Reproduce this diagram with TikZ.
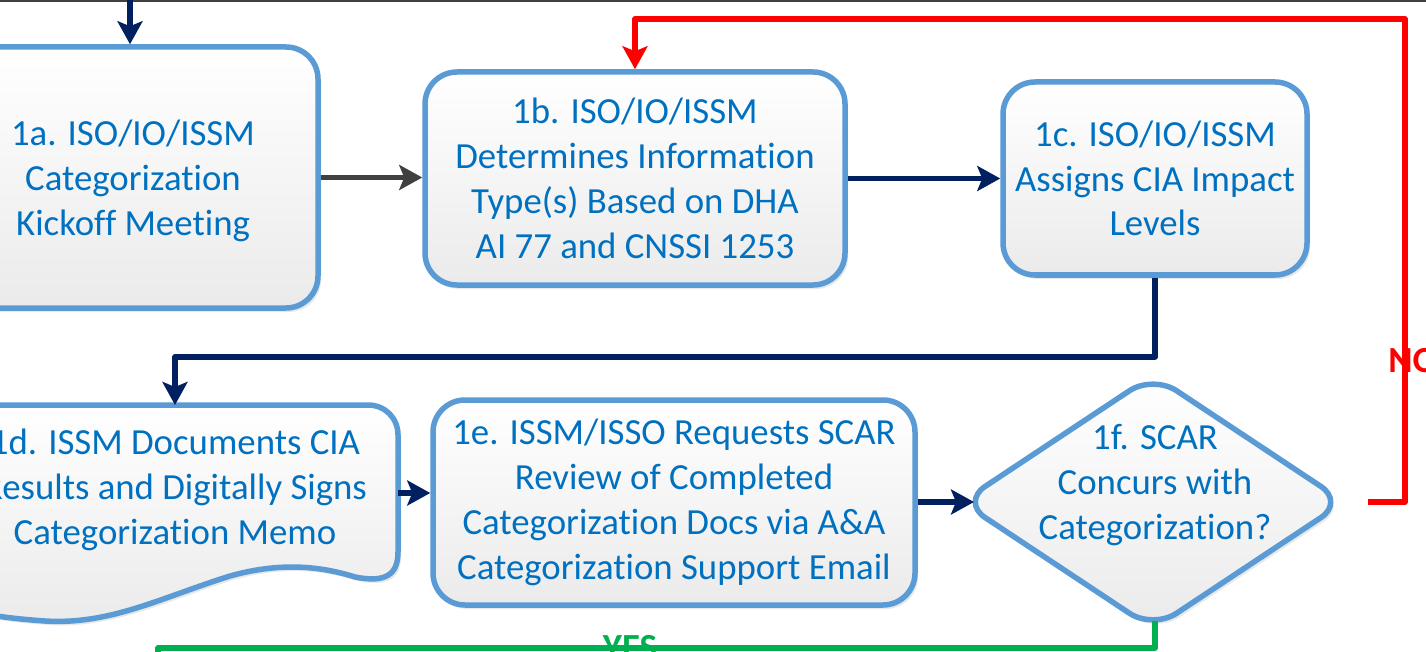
\documentclass[tikz,border=0pt]{standalone}
\usepackage{fontspec}
\setmainfont{Carlito}[Ligatures=NoCommon]
\usetikzlibrary{arrows.meta,shapes.geometric,shadows}
\definecolor{bordc}{HTML}{5B9BD5}
\definecolor{txtc}{HTML}{0070C0}
\definecolor{navyc}{HTML}{002060}
\definecolor{grayc}{HTML}{404040}
\definecolor{redc}{HTML}{FF0000}
\definecolor{greenc}{HTML}{00B050}
\newcommand\boxfont{\fontsize{36.8}{44.8}\selectfont}
\tikzset{
  shapelook/.style={draw=bordc, line width=5.5pt, top color=white, bottom color=black!8,
    drop shadow={shadow xshift=3pt, shadow yshift=-4pt, opacity=0.18}},
  procbox/.style={shapelook, rounded corners=32pt, text=txtc, align=center, inner sep=0pt, font=\boxfont},
  decbox/.style={shapelook, diamond, aspect=1.5, rounded corners=28pt, inner sep=0pt},
  boxtext/.style={text=txtc, align=center, inner sep=0pt, font=\boxfont},
  tipstyle/.style={-{Stealth[length=23pt,width=25pt,inset=5pt]}},
  conn/.style={line width=5.5pt, line join=round, tipstyle},
  navyarrow/.style={conn, draw=navyc},
  grayarrow/.style={conn, draw=grayc},
  redarrow/.style={conn, draw=redc},
  greenline/.style={line width=5.5pt, line join=round, draw=greenc},
  lbl/.style={font=\fontsize{36.8}{44.8}\selectfont\bfseries, inner sep=0pt}
}
\begin{document}
\begin{tikzpicture}[x=1pt,y=-1pt]
\useasboundingbox (0,0) rectangle (1426,652);
\clip (0,0) rectangle (1426,652);
\fill[white] (0,0) rectangle (1426,652);
% top frame line
\coordinate (frameL) at (0,1);
\coordinate (frameR) at (1426,1);
\draw[grayc, line width=3pt] (frameL) -- (frameR);

% nodes
\node[procbox, minimum width=370pt, minimum height=261pt, text depth=-6pt] (a) at (133,177.5)
  {1a. ISO/IO/ISSM\\Categorization\\Kickoff Meeting};
\node[procbox, minimum width=420pt, minimum height=213pt] (b) at (635,178.5)
  {1b. ISO/IO/ISSM\\Determines Information\\Type(s) Based on DHA\\AI 77 and CNSSI 1253};
\node[procbox, minimum width=304pt, minimum height=193pt] (c) at (1155,178.5)
  {1c. ISO/IO/ISSM\\Assigns CIA Impact\\Levels};
% document shape 1d
\path[shapelook]
  (-60,405) -- (368,405) .. controls (385,405) and (398,418) .. (398,435)
  -- (398,552) .. controls (398,575) and (385,583) .. (355,577)
  .. controls (320,566) and (280,562) .. (230,576)
  .. controls (160,598) and (110,625) .. (45,621)
  .. controls (0,618) and (-30,612) .. (-60,605) -- cycle;
\coordinate (dtop) at (175,405);
\coordinate (dright) at (398,493);
\node[boxtext] (d) at (175,490)
  {1d. ISSM Documents CIA\\Results and Digitally Signs\\Categorization Memo};
\node[procbox, minimum width=482pt, minimum height=205pt] (e) at (674,502.5)
  {1e. ISSM/ISSO Requests SCAR\\Review of Completed\\Categorization Docs via A\&A\\Categorization Support Email};
\node[decbox, minimum width=385pt, minimum height=256pt] (f) at (1153,502) {};
\node[boxtext] (ft) at (1155,485) {1f. SCAR\\Concurs with\\Categorization?};

% connectors
\coordinate (topin) at (130,0);
\draw[navyarrow] (topin) -- (topin |- a.north);
\draw[grayarrow] (a.east) -- (a.east -| b.west);
\draw[navyarrow] (b.east) -- (b.east -| c.west);
\draw[navyarrow] (c.south) -- ++(0,79) -| (dtop);
\draw[navyarrow] (dright) -- (dright -| e.west);
\coordinate (fin) at (974,502);
\draw[navyarrow] (e.east |- fin) -- (fin);
\coordinate (nostart) at (1368,502);
\coordinate (nocorner) at (1405,19);
\draw[redarrow] (nostart) -| (nocorner) -| (b.north);
\node[lbl, text=redc] (no) at (1413,361) {NO};
\coordinate (gend) at (158,680);
\coordinate (fbot) at (1155,621);
\draw[greenline] (fbot) |- (gend |- 0,648) -- (gend);
\node[lbl, text=greenc, anchor=base] (yes) at (630,659) {YES};
\end{tikzpicture}
\end{document}
